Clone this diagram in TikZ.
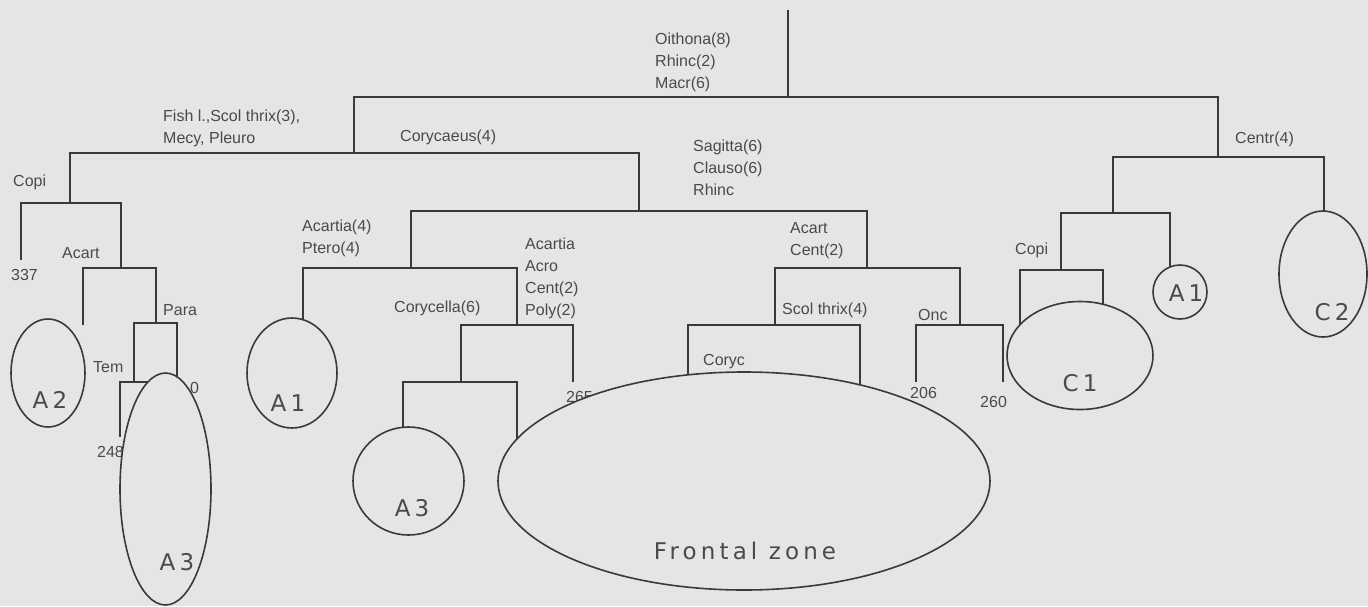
\documentclass[tikz,border=0pt]{standalone}
\usepackage{fontspec}
\setmainfont{Liberation Sans}
\newfontfamily\ellfont[LetterSpace=18]{DejaVu Sans}
\usetikzlibrary{shapes.geometric}
\definecolor{bg}{HTML}{E5E5E5}
\definecolor{ln}{HTML}{3A3A3A}
\definecolor{tx}{HTML}{4A4A4A}
\tikzset{
  tree/.style={draw=ln, line width=1.8pt},
  lab/.style={text=tx, font=\fontsize{16}{22}\selectfont, align=left, anchor=west, inner sep=0pt},
  cluster/.style={ellipse, draw=ln, line width=1.6pt, fill=bg, inner sep=0pt},
  elab/.style={text=tx, font=\ellfont\fontsize{23}{26}\selectfont, inner sep=0pt}
}
\begin{document}
\begin{tikzpicture}[x=1pt, y=-1pt]
\useasboundingbox (0,0) rectangle (1368,606);
\fill[bg] (0,0) rectangle (1368,606);
% tree coordinates (x of vertical, y of own horizontal bar / leaf end)
\coordinate (top) at (788,10);
\coordinate (n0) at (788,97);
\coordinate (nL) at (354,153);
\coordinate (nR) at (1218,157);
\coordinate (nCopi) at (70,203);
\coordinate (nCory) at (639,211);
\coordinate (l337) at (21,260);
\coordinate (nAcart) at (121,268);
\coordinate (lA) at (83,325);
\coordinate (nPara) at (156,323);
\coordinate (nTem) at (134,382);
\coordinate (lP) at (177,380);
\coordinate (l248) at (120,437);
\coordinate (lT) at (158,440);
\coordinate (nAP) at (411,268);
\coordinate (nAC) at (867,268);
\coordinate (lA1) at (303,330);
\coordinate (nCC) at (517,325);
\coordinate (n461) at (461,382);
\coordinate (l265) at (573,382);
\coordinate (lA3) at (403,435);
\coordinate (l2) at (517,450);
\coordinate (nScol) at (775,325);
\coordinate (nOnc) at (960,325);
\coordinate (lCoryc) at (688,400);
\coordinate (lS2) at (860,400);
\coordinate (l206) at (916,382);
\coordinate (l260) at (1003,382);
\coordinate (nCopiR) at (1113,213);
\coordinate (lC2) at (1324,220);
\coordinate (nC1) at (1061,270);
\coordinate (lA1R) at (1170,270);
\coordinate (lC1a) at (1020,330);
\coordinate (lC1b) at (1103,310);
% dendrogram
\draw[tree] (top) -- (n0);
\draw[tree] (nL) |- (n0) -| (nR);
\draw[tree] (nCopi) |- (nL) -| (nCory);
\draw[tree] (l337) |- (nCopi) -| (nAcart);
\draw[tree] (lA) |- (nAcart) -| (nPara);
\draw[tree] (nTem) |- (nPara) -| (lP);
\draw[tree] (l248) |- (nTem) -| (lT);
\draw[tree] (nAP) |- (nCory) -| (nAC);
\draw[tree] (lA1) |- (nAP) -| (nCC);
\draw[tree] (n461) |- (nCC) -| (l265);
\draw[tree] (lA3) |- (n461) -| (l2);
\draw[tree] (nScol) |- (nAC) -| (nOnc);
\draw[tree] (lCoryc) |- (nScol) -| (lS2);
\draw[tree] (l206) |- (nOnc) -| (l260);
\draw[tree] (nCopiR) |- (nR) -| (lC2);
\draw[tree] (nC1) |- (nCopiR) -| (lA1R);
\draw[tree] (lC1a) |- (nC1) -| (lC1b);
% branch labels
\node[lab] (t1) at (655,62) {Oithona(8)\\Rhinc(2)\\Macr(6)};
\node[lab] (t2) at (163,128) {Fish l.,Scol thrix(3),\\Mecy, Pleuro};
\node[lab] (t3) at (400,137) {Corycaeus(4)};
\node[lab] (t4) at (693,168) {Sagitta(6)\\Clauso(6)\\Rhinc};
\node[lab] (t5) at (1235,139) {Centr(4)};
\node[lab] (t6) at (13,182) {Copi};
\node[lab] (t7) at (11,275) {337};
\node[lab] (t8) at (62,253) {Acart};
\node[lab] (t9) at (163,310) {Para};
\node[lab] (t10) at (93,367) {Tem};
\node[lab] (t11) at (97,452) {248};
\node[lab] (t12) at (190,388) {0};
\node[lab] (t13) at (302,238) {Acartia(4)\\Ptero(4)};
\node[lab] (t14) at (525,278) {Acartia\\Acro\\Cent(2)\\Poly(2)};
\node[lab] (t15) at (394,308) {Corycella(6)};
\node[lab] (t16) at (566,397) {265};
\node[lab] (t17) at (790,241) {Acart\\Cent(2)};
\node[lab] (t18) at (782,310) {Scol thrix(4)};
\node[lab] (t19) at (703,362) {Coryc};
\node[lab] (t20) at (918,315) {Onc};
\node[lab] (t21) at (910,393) {206};
\node[lab] (t22) at (980,402) {260};
\node[lab] (t23) at (1015,250) {Copi};
% clusters
\node[cluster, minimum width=74pt, minimum height=108pt] (eA2) at (48,373) {};
\node[cluster, minimum width=91pt, minimum height=232pt] (eA3a) at (165.5,489) {};
\node[cluster, minimum width=90pt, minimum height=110pt] (eA1a) at (292,373) {};
\node[cluster, minimum width=111pt, minimum height=108pt] (eA3b) at (408.5,481) {};
\node[cluster, minimum width=492pt, minimum height=218pt] (eF) at (744,481) {};
\node[cluster, minimum width=146pt, minimum height=108pt] (eC1) at (1080,355.5) {};
\node[cluster, minimum width=54pt, minimum height=54pt] (eA1b) at (1180,292) {};
\node[cluster, minimum width=88pt, minimum height=126pt] (eC2) at (1323,274) {};
\node[elab] (c1) at (50,400) {A2};
\node[elab] (c2) at (177,562) {A3};
\node[elab] (c3) at (288,403) {A1};
\node[elab] (c4) at (412,508) {A3};
\node[elab] (c5) at (745,551) {Frontal zone};
\node[elab] (c6) at (1080,383) {C1};
\node[elab] (c7) at (1186,293) {A1};
\node[elab] (c8) at (1332,312) {C2};
\end{tikzpicture}
\end{document}
